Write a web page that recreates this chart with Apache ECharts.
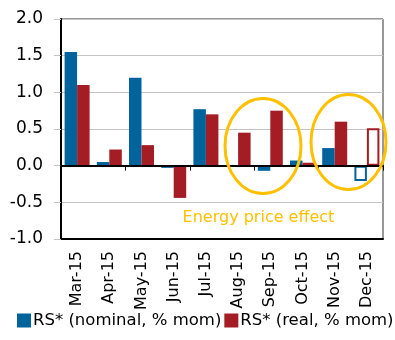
<!DOCTYPE html>
<html><head><meta charset="utf-8">
<script src="https://cdn.jsdelivr.net/npm/echarts@6/dist/echarts.min.js"></script>
<style>html,body{margin:0;padding:0;background:#fff}#c{width:395px;height:340px}</style>
</head><body><div id="c"></div>
<script>
var categories = ['Mar-15','Apr-15','May-15','Jun-15','Jul-15','Aug-15','Sep-15','Oct-15','Nov-15','Dec-15'];
var nominal = [1.55, 0.05, 1.20, -0.03, 0.77, 0.01, -0.07, 0.07, 0.24, -0.21];
var real = [1.10, 0.22, 0.28, -0.44, 0.70, 0.45, 0.75, 0.04, 0.60, 0.51];
var nominalName = 'RS* (nominal, % mom)';
var realName = 'RS* (real, % mom)';
var hollowIndex = 9;
var annotation = 'Energy price effect';

var BLUE = '#00639C', RED = '#A51D24', GOLD = '#FFC000';
var FONT = 'DejaVu Sans';
function mk(vals, color) {
  return vals.map(function (v, i) {
    if (i === hollowIndex) return {value: v, itemStyle: {color: '#fff', borderColor: color, borderWidth: 2}};
    return v;
  });
}
var chart = echarts.init(document.getElementById('c'), null, {renderer: 'canvas'});
chart.setOption({
  animation: false,
  grid: {left: 61, right: 12, top: 19, bottom: 101, show: true, borderColor: '#333', borderWidth: 1, backgroundColor: 'transparent'},
  legend: {
    left: 17, right: 0, bottom: 11, padding: 0, itemWidth: 14, itemHeight: 14, itemGap: 3, icon: 'rect',
    textStyle: {fontFamily: FONT, fontSize: 16.5, color: '#000', padding: [0,0,0,-3]},
    data: [nominalName, realName]
  },
  xAxis: [{
    type: 'category', data: categories, position: 'bottom',
    axisLine: {onZero: false, lineStyle: {color: '#000', width: 2}},
    axisTick: {show: false},
    axisLabel: {rotate: 90, fontFamily: FONT, fontSize: 16, color: '#000', margin: 12}
  }, {
    type: 'category', data: categories, position: 'top', z: 5,
    axisLine: {onZero: true, lineStyle: {color: '#000', width: 2}},
    axisTick: {show: true, inside: true, length: 5, lineStyle: {color: '#000', width: 1}},
    axisLabel: {show: false}
  }],
  yAxis: {
    type: 'value', min: -1, max: 2, interval: 0.5,
    axisLine: {show: true, lineStyle: {color: '#000', width: 2}},
    axisTick: {show: true, length: 7, lineStyle: {color: '#c4c4c4'}},
    splitLine: {lineStyle: {color: '#c4c4c4', width: 1}},
    axisLabel: {fontFamily: FONT, fontSize: 17, color: '#000', margin: 18, formatter: function (v) { return v.toFixed(1); }}
  },
  series: [
    {name: nominalName, type: 'bar', xAxisIndex: 0, data: mk(nominal, BLUE), itemStyle: {color: BLUE}, barWidth: 12.5, barGap: '0%'},
    {name: realName, type: 'bar', xAxisIndex: 0, data: mk(real, RED), itemStyle: {color: RED}, barWidth: 12.5, barGap: '0%'}
  ],
  graphic: [
    {type: 'ellipse', shape: {cx: 263, cy: 146, rx: 38, ry: 47.5}, style: {fill: null, stroke: GOLD, lineWidth: 3}, z: 100},
    {type: 'ellipse', shape: {cx: 348.5, cy: 142, rx: 37.5, ry: 47.5}, style: {fill: null, stroke: GOLD, lineWidth: 3}, z: 100},
    {type: 'text', x: 258.5, y: 218, style: {text: annotation, fill: GOLD, font: '16px ' + FONT, textAlign: 'center', textVerticalAlign: 'middle'}, z: 100}
  ]
});
</script></body></html>
